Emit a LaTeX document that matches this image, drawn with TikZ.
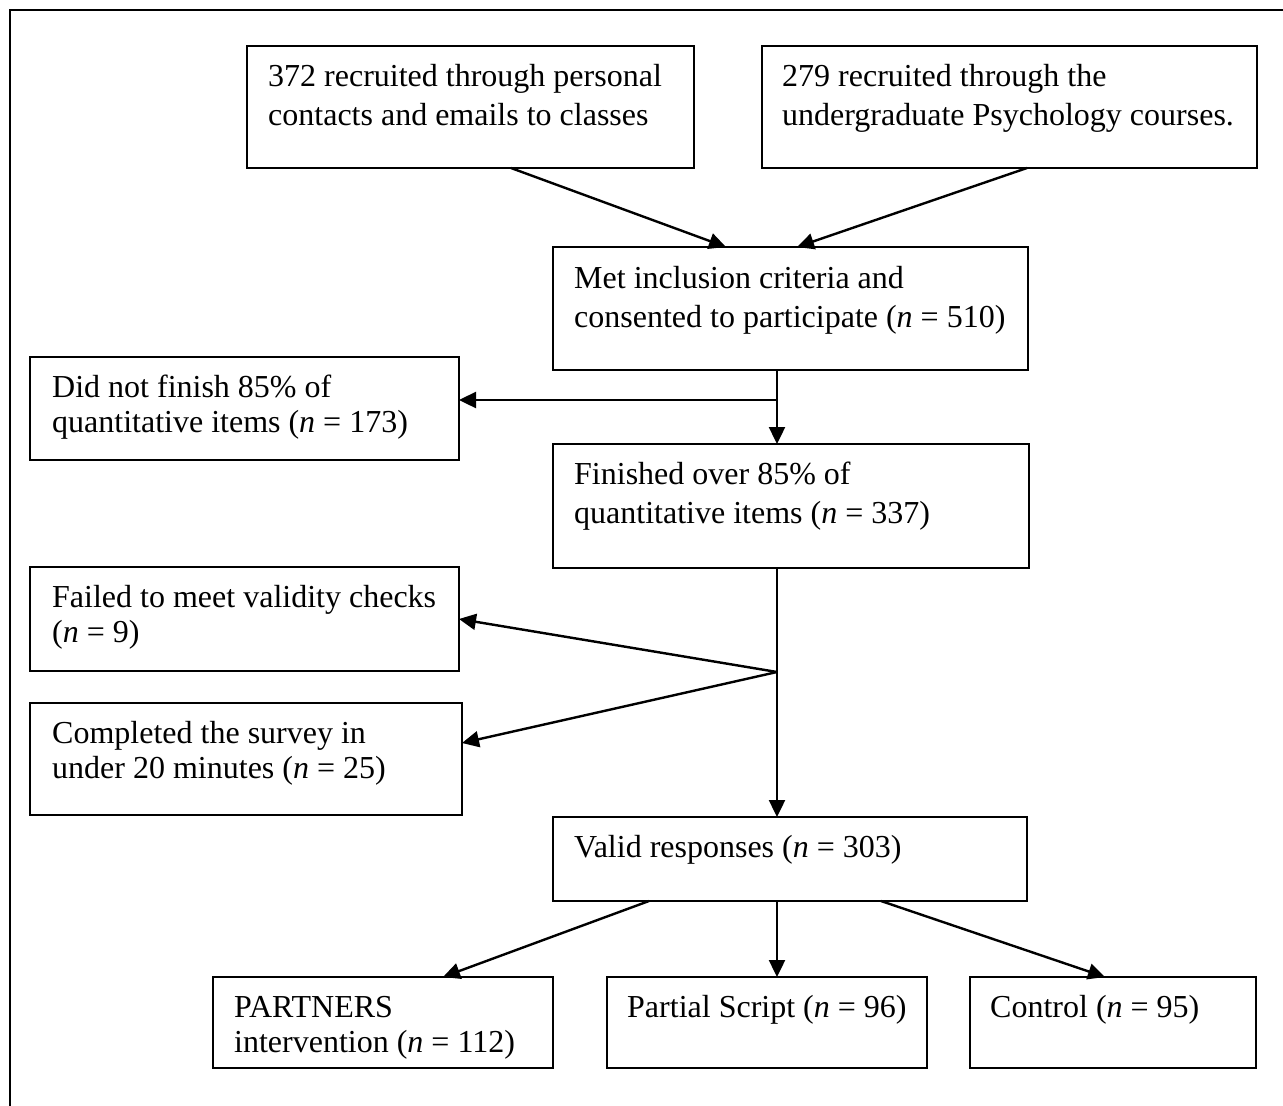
\documentclass[tikz,border=0pt]{standalone}
\usepackage{fontspec}
\setmainfont{Liberation Serif}
\usetikzlibrary{arrows.meta}
\newcommand{\nn}{{\itshape n}}
\begin{document}
\begin{tikzpicture}[x=1pt,y=1pt,
  box/.style={draw, line width=1.3pt, anchor=north west, inner sep=0pt, outer sep=0pt},
  txt/.style={anchor=base west, inner sep=0pt, align=left, font=\fontsize{32}{39}\selectfont,
    execute at begin node={\spaceskip=0.25em\relax\xspaceskip=0.25em\relax}},
  txtb/.style={txt, font=\fontsize{32}{35}\selectfont},
  arr/.style={line width=2.4pt, -{Triangle[length=17pt,width=16pt]}},
  ]
\useasboundingbox (0,0) rectangle (1283,-1106);
\draw[line width=2.4pt] (10,-1106) -- (10,-10) -- (1283,-10);

% boxes
\node[box, minimum width=447pt, minimum height=122pt] (A) at (247,-46) {};
\node[box, minimum width=495pt, minimum height=122pt] (B) at (762,-46) {};
\node[box, minimum width=475pt, minimum height=123pt] (C) at (553,-247) {};
\node[box, minimum width=429pt, minimum height=103pt] (D) at (30,-357) {};
\node[box, minimum width=476pt, minimum height=124pt] (E) at (553,-444) {};
\node[box, minimum width=429pt, minimum height=104pt] (F) at (30,-567) {};
\node[box, minimum width=432pt, minimum height=112pt] (G) at (30,-703) {};
\node[box, minimum width=474pt, minimum height=84pt] (H) at (553,-817) {};
\node[box, minimum width=340pt, minimum height=91pt] (I) at (213,-977) {};
\node[box, minimum width=320pt, minimum height=91pt] (J) at (607,-977) {};
\node[box, minimum width=286pt, minimum height=91pt] (K) at (970,-977) {};

% texts
\node[txt, text width=420pt] (At) at ([xshift=21pt,yshift=-40pt]A.north west)
  {\spaceskip=0.25em 372 recruited through personal\\contacts and emails to classes};
\node[txt, text width=470pt] (Bt) at ([xshift=20pt,yshift=-40pt]B.north west)
  {\spaceskip=0.25em 279 recruited through the\\undergraduate Psychology courses.};
\node[txt, text width=450pt] (Ct) at ([xshift=21pt,yshift=-41pt]C.north west)
  {\spaceskip=0.25em Met inclusion criteria and\\consented to participate (\nn{} = 510)};
\node[txtb, text width=405pt] (Dt) at ([xshift=22pt,yshift=-40pt]D.north west)
  {\spaceskip=0.25em Did not finish 85\% of\\quantitative items (\nn{} = 173)};
\node[txt, text width=450pt] (Et) at ([xshift=21pt,yshift=-40pt]E.north west)
  {\spaceskip=0.25em Finished over 85\% of\\quantitative items (\nn{} = 337)};
\node[txtb, text width=405pt] (Ft) at ([xshift=22pt,yshift=-40pt]F.north west)
  {\spaceskip=0.25em Failed to meet validity checks\\(\nn{} = 9)};
\node[txtb, text width=408pt] (Gt) at ([xshift=22pt,yshift=-40pt]G.north west)
  {\spaceskip=0.25em Completed the survey in\\under 20 minutes (\nn{} = 25)};
\node[txt, text width=450pt] (Ht) at ([xshift=21pt,yshift=-40pt]H.north west)
  {\spaceskip=0.25em Valid responses (\nn{} = 303)};
\node[txtb, text width=318pt] (It) at ([xshift=21pt,yshift=-40pt]I.north west)
  {\spaceskip=0.25em PARTNERS\\intervention (\nn{} = 112)};
\node[txt, text width=298pt] (Jt) at ([xshift=20pt,yshift=-40pt]J.north west)
  {\spaceskip=0.25em Partial Script (\nn{} = 96)};
\node[txt, text width=264pt] (Kt) at ([xshift=20pt,yshift=-40pt]K.north west)
  {\spaceskip=0.25em Control (\nn{} = 95)};

% connectors
\draw[arr] ([xshift=264pt]A.south west) -- ([xshift=173pt]C.north west);
\draw[arr] ([xshift=265pt]B.south west) -- ([xshift=244pt]C.north west);
\draw[arr] ([xshift=224pt]C.south west) -- ([xshift=224pt]E.north west);
\coordinate (c1) at (777,-400);
\draw[arr] (c1) -- (c1 -| D.east);
\draw[arr] ([xshift=224pt]E.south west) -- ([xshift=224pt]H.north west);
\coordinate (c2) at (777,-672);
\draw[arr] (c2) -- (F.east);
\draw[arr] (c2) -- ([yshift=16pt]G.east);
\draw[arr] ([xshift=96pt]H.south west) -- ([xshift=230pt]I.north west);
\draw[arr] ([xshift=224pt]H.south west) -- ([xshift=170pt]J.north west);
\draw[arr] ([xshift=328pt]H.south west) -- ([xshift=135pt]K.north west);
\end{tikzpicture}
\end{document}
